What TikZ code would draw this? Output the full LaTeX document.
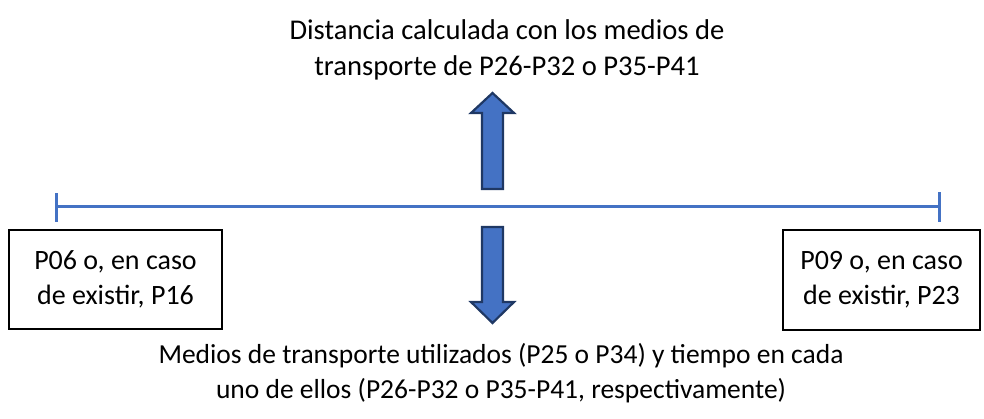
\documentclass[tikz,border=0pt]{standalone}
\usepackage{fontspec}
\setmainfont{Carlito}
\definecolor{lineblue}{HTML}{4472C4}
\definecolor{darkblue}{HTML}{1F3864}
\begin{document}
\begin{tikzpicture}[x=1pt,y=-1pt,
  txt/.style={align=center, inner sep=0pt},
  box/.style={draw=black, line width=2pt, minimum width=213pt, minimum height=99pt, inner sep=0pt, font=\fontsize{28}{35}\selectfont, align=center},
  bigarrow/.style={fill=lineblue, draw=darkblue, line width=2.2pt, line join=miter}]
\useasboundingbox (0,0) rectangle (984,419);
% timeline
\coordinate (L) at (56,207);
\coordinate (R) at (939,207);
\draw[lineblue, line width=3pt] (L) -- (R);
\draw[lineblue, line width=3pt] ([yshift=-15]L) -- ([yshift=14]L);
\draw[lineblue, line width=3pt] ([yshift=-15]R) -- ([yshift=15]R);
% boxes
\node[box] (lb) at (115.5,279.5) {\raisebox{2pt}{P06 o, en caso}\\\raisebox{2pt}{de existir, P16}};
\node[box, minimum width=197pt] (rb) at (881.5,280) {\raisebox{2pt}{P09 o, en caso}\\\raisebox{2pt}{de existir, P23}};
% arrows
\draw[bigarrow] (482,189) -- (482,113) -- (471,113) -- (492.5,93) -- (514,113) -- (503,113) -- (503,189) -- cycle;
\draw[bigarrow] (482,227) -- (482,302) -- (471,302) -- (492.5,323) -- (514,302) -- (503,302) -- (503,227) -- cycle;
% texts
\node[txt, font=\fontsize{28.6}{36}\selectfont] (top) at (507,50) {Distancia calculada con los medios de\\transporte de P26-P32 o P35-P41};
\node[txt, font=\fontsize{27.5}{35}\selectfont] (bot) at (501,373) {Medios de transporte utilizados (P25 o P34) y tiempo en cada\\uno de ellos (P26-P32 o P35-P41, respectivamente)};
\end{tikzpicture}
\end{document}
